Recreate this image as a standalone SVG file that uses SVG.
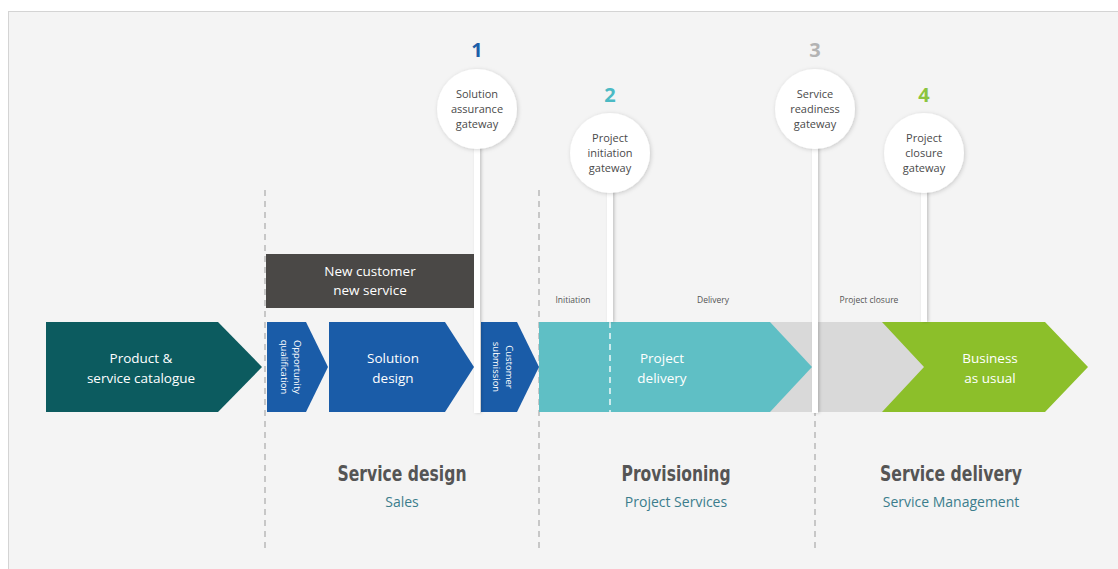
<svg xmlns="http://www.w3.org/2000/svg" width="1118" height="569" viewBox="0 0 1118 569">
<defs>
<filter id="sh" x="-50%" y="-50%" width="200%" height="200%">
<feDropShadow dx="1" dy="1" stdDeviation="2" flood-color="#000" flood-opacity="0.18"/>
</filter>
<filter id="shs" filterUnits="userSpaceOnUse" x="0" y="0" width="1118" height="569">
<feDropShadow dx="1.5" dy="0" stdDeviation="1.5" flood-color="#000" flood-opacity="0.2"/>
</filter>
<style>
.chev{font-family:"Open Sans","Noto Sans",sans-serif;font-size:13.5px;fill:#fff;text-anchor:middle}
.vt{font-family:"Open Sans","Noto Sans",sans-serif;font-size:9.5px;fill:#fff;text-anchor:middle}
.gw{font-family:"Open Sans","Noto Sans",sans-serif;font-size:11px;fill:#4a4a4a;text-anchor:middle}
.num{font-family:"Open Sans","Noto Sans",sans-serif;font-size:20px;font-weight:bold;text-anchor:middle}
.ph{font-family:"Open Sans","Noto Sans",sans-serif;font-size:8.5px;fill:#555;text-anchor:middle}
.big{font-family:"DejaVu Sans Condensed","DejaVu Sans",sans-serif;font-stretch:condensed;font-size:22px;font-weight:bold;fill:#555;text-anchor:middle}
.sub{font-family:"Open Sans","Noto Sans",sans-serif;font-size:14px;fill:#3b7d8c;text-anchor:middle}
.dash{stroke:#9a9a9a;stroke-width:1;stroke-dasharray:6,5;fill:none}
.stem{fill:#fff}
</style>
</defs>
<rect x="0" y="0" width="1118" height="569" fill="#fff"/>
<rect x="8.5" y="11.5" width="1120" height="570" fill="#f4f4f4" stroke="#d4d4d4"/>

<g id="dividers">
<line class="dash" x1="265" y1="190" x2="265" y2="550"/>
<line class="dash" x1="539" y1="190" x2="539" y2="550"/>
<line class="dash" x1="815" y1="190" x2="815" y2="550"/>
</g>

<g id="new-customer">
<rect x="266" y="254" width="208" height="54" fill="#4a4846"/>
<text class="chev" x="370" y="276">New customer</text>
<text class="chev" x="370" y="295">new service</text>
</g>

<g id="product-catalogue">
<polygon points="46,322 218,322 262,367 218,412 46,412" fill="#0c5b5f"/>
<text class="chev" x="141" y="363">Product &amp;</text>
<text class="chev" x="141" y="383">service catalogue</text>
</g>

<g id="opportunity-qualification">
<polygon points="267,322 306,322 328,367 306,412 267,412" fill="#1a5ca8"/>
<text class="vt" transform="translate(297,367) rotate(90)" y="3">Opportunity</text>
<text class="vt" transform="translate(284,367) rotate(90)" y="3">qualification</text>
</g>

<g id="solution-design">
<polygon points="329,322 445,322 474,367 445,412 329,412" fill="#1a5ca8"/>
<text class="chev" x="393" y="363">Solution</text>
<text class="chev" x="393" y="383">design</text>
</g>

<g id="customer-submission">
<polygon points="481,322 517,322 539,367 517,412 481,412" fill="#1a5ca8"/>
<text class="vt" transform="translate(509,367) rotate(90)" y="3">Customer</text>
<text class="vt" transform="translate(496,367) rotate(90)" y="3">submission</text>
</g>

<g id="project-closure-band">
<rect x="765" y="322" width="160" height="90" fill="#d9d9d9"/>
</g>

<g id="project-delivery">
<polygon points="539,322 770,322 812,367 770,412 539,412" fill="#5fbfc5"/>
<line x1="610" y1="322" x2="610" y2="412" stroke="#fff" stroke-width="1.5" stroke-dasharray="6,5" opacity="0.9"/>
<text class="chev" x="662" y="363">Project</text>
<text class="chev" x="662" y="383">delivery</text>
</g>

<g id="business-as-usual">
<polygon points="882,322 1045,322 1088,367 1045,412 882,412 924,367" fill="#8cbf2a"/>
<text class="chev" x="990" y="363">Business</text>
<text class="chev" x="990" y="383">as usual</text>
</g>

<g id="phase-labels">
<text class="ph" x="573" y="303">Initiation</text>
<text class="ph" x="713" y="303">Delivery</text>
<text class="ph" x="869" y="303">Project closure</text>
</g>

<g id="connectors">
<rect class="stem" x="474" y="140" width="6" height="273" filter="url(#shs)"/>
<rect class="stem" x="607" y="185" width="6" height="137" filter="url(#shs)"/>
<rect class="stem" x="812" y="140" width="6" height="273" filter="url(#shs)"/>
<rect class="stem" x="921" y="185" width="6" height="137" filter="url(#shs)"/>
</g>

<g id="gateway-1">
<text class="num" x="477" y="57" fill="#1d5ea8">1</text>
<circle cx="477" cy="109" r="40" fill="#fff" filter="url(#sh)"/>
<text class="gw" x="477" y="98">Solution</text>
<text class="gw" x="477" y="113">assurance</text>
<text class="gw" x="477" y="128">gateway</text>
</g>

<g id="gateway-2">
<text class="num" x="610" y="102" fill="#4bbac4">2</text>
<circle cx="610" cy="153" r="40" fill="#fff" filter="url(#sh)"/>
<text class="gw" x="610" y="142">Project</text>
<text class="gw" x="610" y="157">initiation</text>
<text class="gw" x="610" y="172">gateway</text>
</g>

<g id="gateway-3">
<text class="num" x="815" y="57" fill="#b3b3b3">3</text>
<circle cx="815" cy="109" r="40" fill="#fff" filter="url(#sh)"/>
<text class="gw" x="815" y="98">Service</text>
<text class="gw" x="815" y="113">readiness</text>
<text class="gw" x="815" y="128">gateway</text>
</g>

<g id="gateway-4">
<text class="num" x="924" y="102" fill="#8cc43f">4</text>
<circle cx="924" cy="153" r="40" fill="#fff" filter="url(#sh)"/>
<text class="gw" x="924" y="142">Project</text>
<text class="gw" x="924" y="157">closure</text>
<text class="gw" x="924" y="172">gateway</text>
</g>

<g id="section-labels">
<text class="big" x="402" y="481" textLength="129" lengthAdjust="spacingAndGlyphs">Service design</text>
<text class="sub" x="402" y="507">Sales</text>
<text class="big" x="676" y="481" textLength="109" lengthAdjust="spacingAndGlyphs">Provisioning</text>
<text class="sub" x="676" y="507">Project Services</text>
<text class="big" x="951" y="481" textLength="142" lengthAdjust="spacingAndGlyphs">Service delivery</text>
<text class="sub" x="951" y="507">Service Management</text>
</g>
</svg>
